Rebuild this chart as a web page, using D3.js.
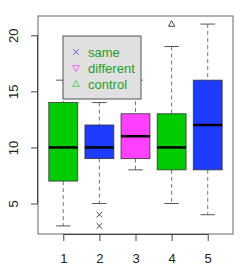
<!DOCTYPE html>
<html>
<head>
<meta charset="utf-8">
<script src="https://cdn.jsdelivr.net/npm/d3@7"></script>
<style>
  body { margin: 0; background: #fff; }
  svg text { font-family: "Liberation Sans", Arial, sans-serif; }
</style>
</head>
<body>
<div id="chart"></div>
<script>
// box stats
let groups = [ 1, 2, 3, 4, 5 ]
let lowWhisker = [ 3, 5, 8, 5, 4 ]
let q1 = [ 7, 9, 9, 8, 8 ]
let median = [ 10, 10, 11, 10, 12 ]
let q3 = [ 14, 12, 13, 13, 16 ]
let highWhisker = [ 16, 14, 16, 19, 21 ]
let boxColors = [ '#00cc00', '#1e3cff', '#ff40ff', '#00cc00', '#1e3cff' ]
let outliers = [ { g: 2, v: 4, shape: 'x' }, { g: 2, v: 3, shape: 'x' }, { g: 4, v: 21, shape: 'tri' } ]
let yTicks = [ 5, 10, 15, 20 ]
let legendLabels = [ 'same', 'different', 'control' ]
let legendShapes = [ 'x', 'tridown', 'tri' ]
let legendColors = [ '#6b6bff', '#ff66ff', '#55d655' ]

let width = 252
let height = 273
let strokeColor = '#333'
let fontFamily = '"Liberation Sans", Arial, sans-serif'

let svg = d3.select('#chart').append('svg')
  .attr('width', width)
  .attr('height', height)

let x = d3.scaleLinear().domain([ 0.3, 5.7 ]).range([ 38, 233 ])
let y = d3.scaleLinear().domain([ 2.28, 21.72 ]).range([ 234, 16 ])
let boxW = x(0.8) - x(0)
let capW = boxW / 2

let data = groups.map((g, i) => ({
  g: g, lo: lowWhisker[i], q1: q1[i], med: median[i], q3: q3[i], hi: highWhisker[i], color: boxColors[i]
}))

function symbol (sel, shape, color, size) {
  let s = size
  if (shape === 'x') {
    sel.append('path')
      .attr('d', `M${-s},${-s}L${s},${s}M${-s},${s}L${s},${-s}`)
      .attr('stroke', color).attr('stroke-width', 1).attr('fill', 'none')
  } else if (shape === 'tri') {
    sel.append('path')
      .attr('d', `M0,${-s * 1.2}L${s * 1.1},${s * 0.8}L${-s * 1.1},${s * 0.8}Z`)
      .attr('stroke', color).attr('stroke-width', 1).attr('fill', 'none')
  } else {
    sel.append('path')
      .attr('d', `M0,${s * 1.2}L${s * 1.1},${-s * 0.8}L${-s * 1.1},${-s * 0.8}Z`)
      .attr('stroke', color).attr('stroke-width', 1).attr('fill', 'none')
  }
}

let boxes = svg.append('g').attr('class', 'boxes')
  .selectAll('g')
  .data(data)
  .enter()
  .append('g')

// whiskers
boxes.append('line')
  .attr('x1', d => x(d.g)).attr('x2', d => x(d.g))
  .attr('y1', d => y(d.hi)).attr('y2', d => y(d.q3))
  .attr('stroke', '#777').attr('stroke-dasharray', '4,3')
boxes.append('line')
  .attr('x1', d => x(d.g)).attr('x2', d => x(d.g))
  .attr('y1', d => y(d.q1)).attr('y2', d => y(d.lo))
  .attr('stroke', '#777').attr('stroke-dasharray', '4,3')
boxes.append('line')
  .attr('x1', d => x(d.g) - capW / 2).attr('x2', d => x(d.g) + capW / 2)
  .attr('y1', d => y(d.hi)).attr('y2', d => y(d.hi))
  .attr('stroke', '#555')
boxes.append('line')
  .attr('x1', d => x(d.g) - capW / 2).attr('x2', d => x(d.g) + capW / 2)
  .attr('y1', d => y(d.lo)).attr('y2', d => y(d.lo))
  .attr('stroke', '#555')

boxes.append('rect')
  .attr('x', d => x(d.g) - boxW / 2)
  .attr('width', boxW)
  .attr('y', d => y(d.q3))
  .attr('height', d => y(d.q1) - y(d.q3))
  .attr('fill', d => d.color)
  .attr('stroke', strokeColor)
  .attr('stroke-width', 0.8)

boxes.append('line')
  .attr('x1', d => x(d.g) - boxW / 2).attr('x2', d => x(d.g) + boxW / 2)
  .attr('y1', d => y(d.med)).attr('y2', d => y(d.med))
  .attr('stroke', '#000').attr('stroke-width', 2.5)

outliers.forEach(o => {
  let g = svg.append('g').attr('transform', `translate(${x(o.g)},${y(o.v)})`)
  symbol(g, o.shape, '#444', 2.8)
})

// frame
svg.append('rect')
  .attr('x', 38).attr('y', 16).attr('width', 195).attr('height', 218)
  .attr('fill', 'none').attr('stroke', '#666')

// axes
let yAxis = svg.append('g')
  .attr('transform', 'translate(38,0)')
  .call(d3.axisLeft(y).tickValues(yTicks).tickSize(7).tickSizeOuter(0))
  .attr('font-family', fontFamily)
yAxis.select('.domain').attr('d', `M-0.5,${y(5)}V${y(20)}`).attr('stroke', '#444')
yAxis.selectAll('.tick line').attr('stroke', '#444')
yAxis.selectAll('.tick text')
  .attr('x', null).attr('dy', null)
  .attr('transform', 'translate(-25,0) rotate(-90)')
  .attr('text-anchor', 'middle')
  .attr('dominant-baseline', 'central')
  .attr('font-size', 13).attr('fill', '#222')

let xAxis = svg.append('g')
  .attr('transform', 'translate(0,234)')
  .call(d3.axisBottom(x).tickValues(groups).tickFormat(d3.format('d')).tickSize(7).tickSizeOuter(0))
  .attr('font-family', fontFamily)
xAxis.select('.domain').attr('d', `M${x(1)},0.5H${x(5)}`).attr('stroke', '#444')
xAxis.selectAll('.tick line').attr('stroke', '#444')
xAxis.selectAll('.tick text')
  .attr('y', 24).attr('dy', '0.35em')
  .attr('font-size', 13).attr('fill', '#222')

// legend
let legend = svg.append('g').attr('transform', 'translate(63,36)')
legend.append('rect')
  .attr('width', 78).attr('height', 63)
  .attr('fill', '#e0e0e0').attr('stroke', '#555')
legendLabels.forEach((label, i) => {
  let row = legend.append('g').attr('transform', `translate(13,${16 + i * 16})`)
  symbol(row.append('g'), legendShapes[i], legendColors[i], 3)
  row.append('text')
    .attr('x', 12).attr('dy', '0.35em')
    .attr('font-size', 13).attr('fill', '#1ea01e')
    .text(label)
})
</script>
</body>
</html>
